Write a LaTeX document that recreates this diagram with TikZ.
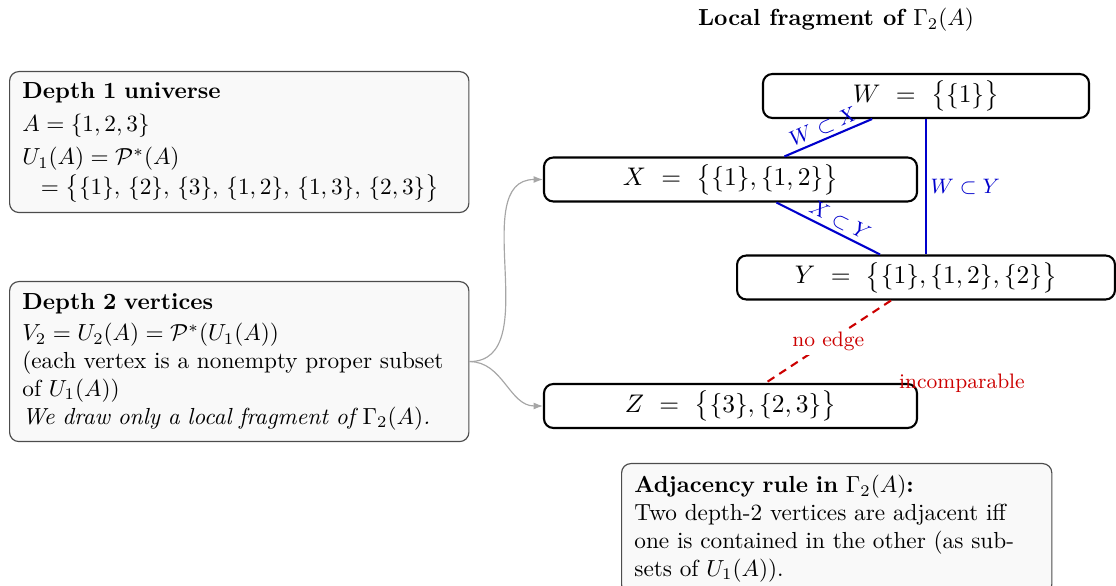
\documentclass[tikz,border=0pt]{standalone}
\usepackage{amsmath,amssymb}
\usetikzlibrary{arrows.meta}
\begin{document}
\begin{tikzpicture}[x=0.43pt,y=-0.43pt,
  infobox/.style={draw=black!70, fill=black!2.5, rounded corners=4pt, line width=0.5pt,
    align=left, anchor=north west, inner xsep=5.5pt, inner ysep=4pt, font=\normalsize},
  vbox/.style={draw=black, line width=0.9pt, rounded corners=4pt, minimum height=18.9pt,
    font=\fontsize{11pt}{13pt}\selectfont, inner sep=0pt},
  inc/.style={draw=blue!80!black, line width=0.9pt},
  inclabel/.style={font=\small, text=blue!80!black, inner sep=1.5pt},
  noedge/.style={draw=red!80!black, line width=0.9pt, dash pattern=on 3.5pt off 2.5pt},
  redlabel/.style={font=\small, text=red!80!black},
  feed/.style={draw=black!35, line width=0.5pt, -{Latex[length=4pt,width=3pt]}, black!35}
]
\clip (0,0) rectangle (1116,586);

% title
\node[font=\bfseries] (title) at (836,20) {Local fragment of $\Gamma_2(A)$};

% left boxes
\node[infobox, text width=186.5pt, minimum height=60.6pt] (univ) at (9,71)
  {\textbf{Depth 1 universe}\\[2.6pt]
   $A=\{1,2,3\}$\\[2.2pt]
   $U_1(A)=\mathcal{P}^{*}(A)$\\[0.5pt]
   \hspace*{8pt}$=\bigl\{\{1\},\,\{2\},\,\{3\},\,\{1,2\},\,\{1,3\},\,\{2,3\}\bigr\}$};

\node[infobox, text width=186.5pt, minimum height=68.8pt] (verts) at (9,281)
  {\textbf{Depth 2 vertices}\\[1.5pt]
   $V_2=U_2(A)=\mathcal{P}^{*}(U_1(A))$\\
   (each vertex is a nonempty proper subset\\
   of $U_1(A)$)\\
   \textit{We draw only a local fragment of $\Gamma_2(A)$.}};

% vertex boxes
\node[vbox, minimum width=140.2pt] (W) at (926,96) {$W\ =\ \bigl\{\{1\}\bigr\}$};
\node[vbox, minimum width=160.4pt] (X) at (730.5,179.5) {$X\ =\ \bigl\{\{1\},\{1,2\}\bigr\}$};
\node[vbox, minimum width=162.5pt] (Y) at (926,277.5) {$Y\ =\ \bigl\{\{1\},\{1,2\},\{2\}\bigr\}$};
\node[vbox, minimum width=160.4pt] (Z) at (730.5,406) {$Z\ =\ \bigl\{\{3\},\{2,3\}\bigr\}$};

% adjacency rule box
\node[infobox, text width=174pt, inner ysep=5pt] (rule) at (621,463)
  {\textbf{Adjacency rule in $\Gamma_2(A)$:}\\
   Two depth-2 vertices are adjacent iff\\
   one is contained in the other (as sub-\\
   sets of $U_1(A)$).};

% inclusion edges
\draw[inc] (X) -- node[inclabel, sloped, above, midway] {$W\subset X$} (W);
\draw[inc] (X) -- node[inclabel, sloped, above, pos=0.56] {$X\subset Y$} (Y);
\draw[inc] (W) -- node[inclabel, right, midway] {$W\subset Y$} (Y);

% non-edge
\draw[noedge] (Y) -- node[redlabel, fill=white, inner sep=1.5pt, midway] {no edge} (Z);
\node[redlabel, inner sep=0pt] (incomp) at (962,383) {incomparable};

% feed arrows
\draw[feed] (verts.east) to[out=0, in=180] (X.west);
\draw[feed] (verts.east) to[out=0, in=180] (Z.west);
\end{tikzpicture}
\end{document}
